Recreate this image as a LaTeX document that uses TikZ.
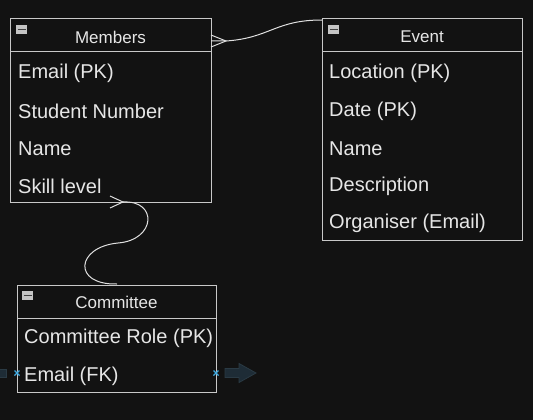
\documentclass[tikz,border=0pt]{standalone}
\usepackage{fontspec}
\setmainfont{Liberation Sans}
\begin{document}
\begin{tikzpicture}[x=1pt,y=-1pt,
  box/.style={draw=boxline, line width=1pt},
  attr/.style={anchor=west, text=txt, inner sep=0pt, font=\fontsize{20}{23}\selectfont},
  ttl/.style={anchor=center, text=txt, inner sep=0pt, font=\fontsize{17}{20}\selectfont},
  conn/.style={draw=connline, line width=1pt},
  bluex/.style={draw=markblue, line width=1.4pt}]
\definecolor{bg}{HTML}{121212}
\definecolor{boxline}{HTML}{C8C8C8}
\definecolor{txt}{HTML}{E6E6E6}
\definecolor{connline}{HTML}{E0E0E0}
\definecolor{markblue}{HTML}{3FA9E0}
\definecolor{ghost}{HTML}{1E2C36}
\definecolor{ghostedge}{HTML}{2A3A44}
\definecolor{iconfill}{HTML}{C4C4C4}
\definecolor{iconbar}{HTML}{404040}
\useasboundingbox[fill=bg] (0,0) rectangle (533,420);
\newcommand{\minusicon}[2]{%
  \fill[iconfill] (#1,#2) rectangle ++(11,9);
  \draw[iconbar, line width=1.6pt] (#1+1.5,#2+4.5) -- ++(8,0);}
% Members
\draw[box] (10,19) rectangle (211,202);
\draw[box] (10,52) -- (211,52);
\minusicon{16}{25}
\node[ttl] (memT) at (110.5,37) {Members};
\node[attr] (m1) at (18,73.5) {Email (PK)};
\node[attr] (m2) at (18,111) {Student Number};
\node[attr] (m3) at (18,148.5) {Name};
\node[attr] (m4) at (18,186) {Skill level};
% Event
\draw[box] (322,19) rectangle (522,240);
\draw[box] (322,52) -- (522,52);
\minusicon{328}{25}
\node[ttl] (evT) at (422,37) {Event};
\node[attr] (e1) at (329,73.5) {Location (PK)};
\node[attr] (e2) at (329,111) {Date (PK)};
\node[attr] (e3) at (329,148.5) {Name};
\node[attr] (e4) at (329,186) {Description};
\node[attr] (e5) at (329,223.5) {Organiser (Email)};
% Committee
\draw[box] (17,285) rectangle (216,392);
\draw[box] (17,318) -- (216,318);
\minusicon{22}{291}
\node[ttl] (coT) at (116.5,302) {Committee};
\node[attr] (c1) at (24,338.5) {Committee Role (PK)};
\node[attr] (c2) at (24,376) {Email (FK)};
% connector Members - Event
\coordinate (a0) at (211,41);
\coordinate (a1) at (226,41);
\coordinate (a2) at (322,20);
\draw[conn] (211,35) -- (226,41) -- (211,47);
\draw[conn] (a0) -- (a1) .. controls (270,38) and (275,20) .. (a2);
% connector Members - Committee
\coordinate (b0) at (123,202);
\coordinate (b1) at (117,284);
\draw[conn] (110,196) -- (123,202) -- (110,208);
\draw[conn] (b0) .. controls (158,200) and (156,240) .. (118,243)
  .. controls (76,247) and (72,285) .. (b1);
% blue markers
\foreach \p in {(17,373),(216,373)} {
  \draw[bluex] \p ++(-2.5,-2.5) -- ++(5,5);
  \draw[bluex] \p ++(-2.5,2.5) -- ++(5,-5);}
% ghost arrows
\filldraw[fill=ghost, draw=ghostedge, line width=0.8pt] (-1,369) rectangle (6,377);
\filldraw[fill=ghost, draw=ghostedge, line width=0.8pt] (225,368.5) -- (239,368.5) -- (239,363.5) -- (256,373) -- (239,382.5) -- (239,377.5) -- (225,377.5) -- cycle;
\end{tikzpicture}
\end{document}
